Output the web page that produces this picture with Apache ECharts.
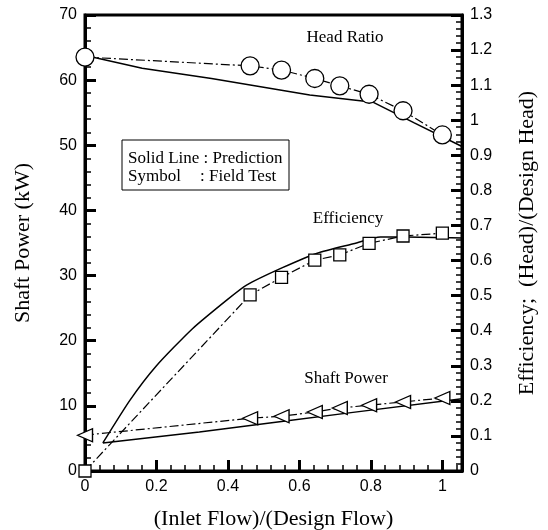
<!DOCTYPE html>
<html><head><meta charset="utf-8">
<script src="https://cdn.jsdelivr.net/npm/echarts@6/dist/echarts.min.js"></script>
<style>html,body{margin:0;padding:0;background:#fff}#c{width:548px;height:530px}</style>
</head><body><div id="c"></div>
<script>
// Field test (symbols)
const testFlow = [0, 0.462, 0.55, 0.643, 0.713, 0.795, 0.89, 1.0];
const headTest = [1.18, 1.155, 1.143, 1.119, 1.098, 1.074, 1.027, 0.958];
const effTest = [0, 0.502, 0.552, 0.601, 0.616, 0.649, 0.670, 0.678];
const powerTest = [5.5, 8.1, 8.4, 9.06, 9.67, 10.1, 10.6, 11.2];
// Prediction (solid lines)
const headPredFlow = [0.02, 0.16, 0.354, 0.629, 0.807, 0.92, 1.055];
const headPred = [1.18, 1.148, 1.119, 1.072, 1.051, 0.993, 0.925];
const effPredFlow = [0.05, 0.126, 0.2, 0.3, 0.4, 0.452, 0.551, 0.65, 0.748, 0.827, 0.9, 1.055];
const effPred = [0.08, 0.202, 0.30, 0.405, 0.49, 0.53, 0.579, 0.621, 0.647, 0.667, 0.667, 0.664];
const powerPredFlow = [0.05, 0.32, 0.55, 0.75, 1.055];
const powerPred = [4.3, 6.0, 7.6, 9.0, 11.1];
// Axes
const xTicks = [0, 0.2, 0.4, 0.6, 0.8, 1];

const zip = (xs, ys) => xs.map((x, i) => [x, ys[i]]);
const serif = '"Liberation Serif", "Times New Roman", serif';
const sans = '"Liberation Sans", Arial, sans-serif';
const dashDot = [9, 3, 2, 3];
const hollow = {color: '#fff', borderColor: '#000', borderWidth: 1.3};
const triLeft = 'path://M0,5 L10,0 L10,10 Z';

const chart = echarts.init(document.getElementById('c'), null, {renderer: 'canvas'});
const axisCommon = {
  axisLine: {show: true, onZero: false, lineStyle: {color: '#000', width: 3}},
  axisTick: {show: true, inside: true, length: 11, lineStyle: {color: '#000', width: 3}},
  minorTick: {show: true, splitNumber: 5, length: 6, lineStyle: {color: '#000', width: 1.5}},
  splitLine: {show: false},
  axisLabel: {color: '#000', fontFamily: sans, fontSize: 16, margin: 8}
};
chart.setOption({
  animation: false,
  backgroundColor: '#fff',
  grid: {left: 85, right: 86, top: 15, bottom: 59, containLabel: false, outerBoundsMode: 'none',
         show: true, borderColor: '#000', borderWidth: 3, backgroundColor: 'transparent'},
  xAxis: Object.assign({}, axisCommon, {
    type: 'value', min: 0, max: 1.055, interval: 0.2,
    axisLabel: Object.assign({}, axisCommon.axisLabel, {
      showMaxLabel: false,
      formatter: v => (xTicks.some(t => Math.abs(t - v) < 1e-6) ? String(Math.round(v * 10) / 10) : '')
    }),
    name: '(Inlet Flow)/(Design Flow)', nameLocation: 'middle', nameGap: 37,
    nameTextStyle: {color: '#000', fontFamily: serif, fontSize: 22}
  }),
  yAxis: [
    Object.assign({}, axisCommon, {
      type: 'value', min: 0, max: 70, interval: 10, position: 'left',
      name: 'Shaft Power (kW)', nameLocation: 'middle', nameGap: 51, nameRotate: 90,
      nameTextStyle: {color: '#000', fontFamily: serif, fontSize: 22}
    }),
    Object.assign({}, axisCommon, {
      type: 'value', min: 0, max: 1.3, interval: 0.1, position: 'right',
      axisLabel: Object.assign({}, axisCommon.axisLabel, {formatter: v => String(Math.round(v * 10) / 10)}),
      name: 'Efficiency;  (Head)/(Design Head)', nameLocation: 'middle', nameGap: 54, nameRotate: 90,
      nameTextStyle: {color: '#000', fontFamily: serif, fontSize: 22}
    })
  ],
  series: [
    {type: 'line', name: 'Head pred', yAxisIndex: 1, data: zip(headPredFlow, headPred), showSymbol: false,
     lineStyle: {color: '#000', width: 1.5}, z: 2},
    {type: 'line', name: 'Eff pred', yAxisIndex: 1, data: zip(effPredFlow, effPred), showSymbol: false, smooth: 0.2,
     lineStyle: {color: '#000', width: 1.5}, z: 2},
    {type: 'line', name: 'Power pred', yAxisIndex: 0, data: zip(powerPredFlow, powerPred), showSymbol: false,
     lineStyle: {color: '#000', width: 1.5}, z: 2},
    {type: 'line', name: 'Head test', yAxisIndex: 1, data: zip(testFlow, headTest), symbol: 'circle', symbolSize: 18,
     itemStyle: hollow, lineStyle: {color: '#000', width: 1.2, type: dashDot}, z: 3},
    {type: 'line', name: 'Eff test', yAxisIndex: 1, data: zip(testFlow, effTest), symbol: 'rect', symbolSize: 12,
     itemStyle: hollow, lineStyle: {color: '#000', width: 1.2, type: dashDot}, z: 3},
    {type: 'line', name: 'Power test', yAxisIndex: 0, data: zip(testFlow, powerTest), symbol: triLeft, symbolSize: [15, 13],
     itemStyle: hollow, lineStyle: {color: '#000', width: 1.2, type: dashDot}, z: 3}
  ],
  graphic: [
    {type: 'rect', shape: {x: 122, y: 140, width: 167, height: 50}, style: {fill: '#fff', stroke: '#000', lineWidth: 1}, z: 10},
    {type: 'text', x: 128, y: 159, style: {text: 'Solid Line : Prediction', font: '17px ' + serif, fill: '#000', textVerticalAlign: 'middle'}, z: 11},
    {type: 'text', x: 128, y: 177, style: {text: 'Symbol', font: '17px ' + serif, fill: '#000', textVerticalAlign: 'middle'}, z: 11},
    {type: 'text', x: 200, y: 177, style: {text: ': Field Test', font: '17px ' + serif, fill: '#000', textVerticalAlign: 'middle'}, z: 11},
    {type: 'text', x: 345, y: 38, style: {text: 'Head Ratio', font: '17px ' + serif, fill: '#000', textAlign: 'center', textVerticalAlign: 'middle'}, z: 11},
    {type: 'text', x: 348, y: 219, style: {text: 'Efficiency', font: '17px ' + serif, fill: '#000', textAlign: 'center', textVerticalAlign: 'middle'}, z: 11},
    {type: 'text', x: 346, y: 379, style: {text: 'Shaft Power', font: '17px ' + serif, fill: '#000', textAlign: 'center', textVerticalAlign: 'middle'}, z: 11}
  ]
});
</script></body></html>
